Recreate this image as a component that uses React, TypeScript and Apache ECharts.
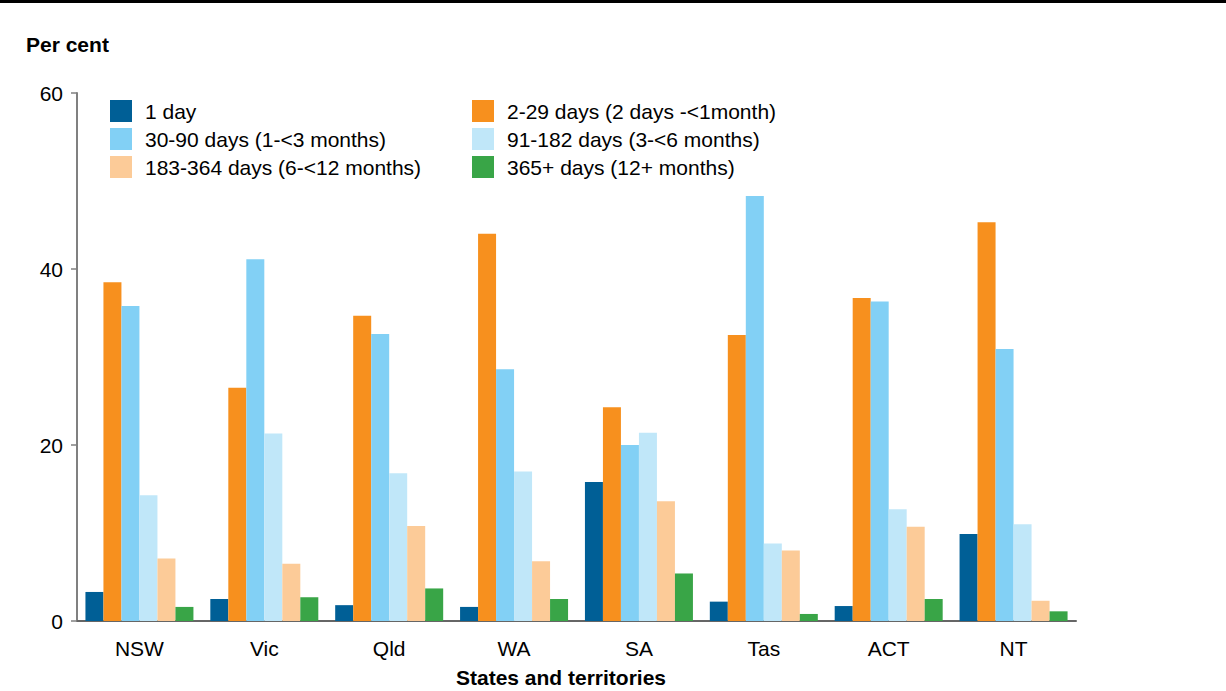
import React, { useEffect, useRef } from "react";
import * as echarts from "echarts";

const categories = ["NSW", "Vic", "Qld", "WA", "SA", "Tas", "ACT", "NT"];
const seriesNames = [
  "1 day",
  "2-29 days (2 days -<1month)",
  "30-90 days (1-<3 months)",
  "91-182 days (3-<6 months)",
  "183-364 days (6-<12 months)",
  "365+ days (12+ months)",
];
const oneDay = [3.3, 2.5, 1.8, 1.6, 15.8, 2.2, 1.7, 9.9];
const days2to29 = [38.5, 26.5, 34.7, 44.0, 24.3, 32.5, 36.7, 45.3];
const days30to90 = [35.8, 41.1, 32.6, 28.6, 20.0, 48.3, 36.3, 30.9];
const days91to182 = [14.3, 21.3, 16.8, 17.0, 21.4, 8.8, 12.7, 11.0];
const days183to364 = [7.1, 6.5, 10.8, 6.8, 13.6, 8.0, 10.7, 2.3];
const days365plus = [1.6, 2.7, 3.7, 2.5, 5.4, 0.8, 2.5, 1.1];
const yTicks = [0, 20, 40, 60];

const colors = ["#005F96", "#F7901E", "#82D0F5", "#C0E7F9", "#FCCB98", "#39A547"];
const FONT = "'Liberation Sans', Arial, Helvetica, sans-serif";

export default function App() {
  const ref = useRef<HTMLDivElement>(null);
  useEffect(() => {
    document.body.style.margin = "0";
    const chart = echarts.init(ref.current as HTMLDivElement, null, { renderer: "svg" });
    const values = [oneDay, days2to29, days30to90, days91to182, days183to364, days365plus];
    const legendText = { color: "#000", fontSize: 21, fontFamily: FONT, padding: [0, 0, 0, 8] };
    chart.setOption({
      animation: false,
      textStyle: { fontFamily: FONT },
      graphic: [
        { type: "rect", shape: { x: 0, y: 0, width: 1226, height: 3 }, style: { fill: "#000" } },
        {
          type: "text",
          x: 26,
          y: 44,
          style: { text: "Per cent", fontSize: 21, fontWeight: "bold", fontFamily: FONT, fill: "#000", verticalAlign: "middle" },
        },
        {
          type: "text",
          x: 561,
          y: 677,
          style: {
            text: "States and territories",
            fontSize: 21,
            fontWeight: "bold",
            fontFamily: FONT,
            fill: "#000",
            align: "center",
            verticalAlign: "middle",
          },
        },
      ],
      legend: [
        {
          orient: "vertical",
          left: 105,
          top: 95,
          itemWidth: 22,
          itemHeight: 22,
          itemGap: 6,
          icon: "rect",
          selectedMode: false,
          data: [seriesNames[0], seriesNames[2], seriesNames[4]],
          textStyle: legendText,
        },
        {
          orient: "vertical",
          left: 467,
          top: 95,
          itemWidth: 22,
          itemHeight: 22,
          itemGap: 6,
          icon: "rect",
          selectedMode: false,
          data: [seriesNames[1], seriesNames[3], seriesNames[5]],
          textStyle: legendText,
        },
      ],
      grid: { left: 77, right: 150, top: 93, bottom: 70, containLabel: false },
      xAxis: {
        type: "category",
        data: categories,
        axisLine: { lineStyle: { color: "#666", width: 2 } },
        axisTick: { show: false },
        axisLabel: { color: "#000", fontSize: 21, margin: 17, fontFamily: FONT },
      },
      yAxis: {
        type: "value",
        min: yTicks[0],
        max: yTicks[yTicks.length - 1],
        interval: 20,
        axisLine: { show: true, lineStyle: { color: "#808080", width: 2 } },
        axisTick: { show: true, length: 6, lineStyle: { color: "#808080", width: 1.5 } },
        axisLabel: { color: "#000", fontSize: 21, margin: 14, fontFamily: FONT },
        splitLine: { show: false },
      },
      series: values.map((v, i) => ({
        name: seriesNames[i],
        type: "bar",
        data: v,
        barWidth: 18,
        barGap: "0%",
        itemStyle: { color: colors[i] },
      })),
    });
    return () => chart.dispose();
  }, []);
  return <div ref={ref} style={{ width: 1226, height: 691 }} />;
}
